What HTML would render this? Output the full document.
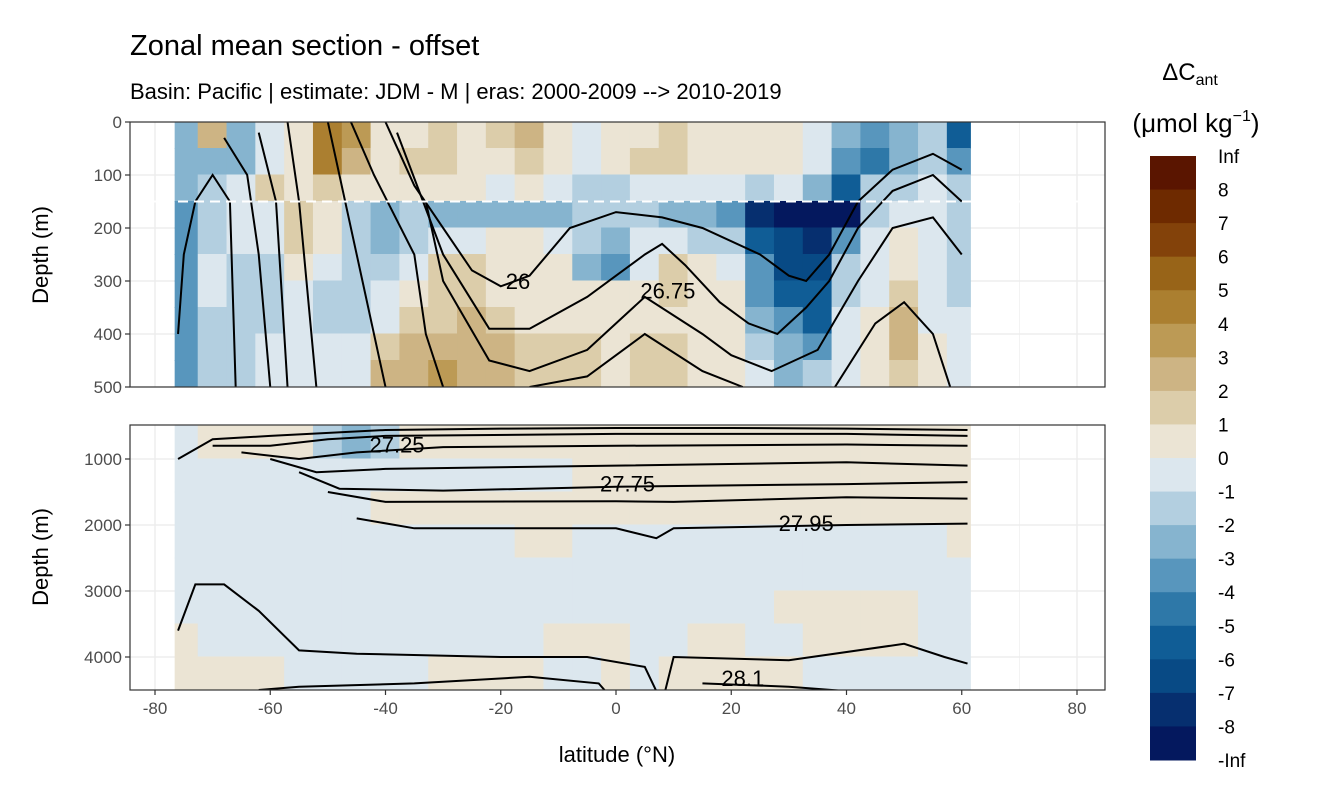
<!DOCTYPE html>
<html><head><meta charset="utf-8"><style>
html,body{margin:0;padding:0;background:#fff;}
svg{display:block;font-family:"Liberation Sans",sans-serif;}
</style></head><body>
<svg id="chart" width="1344" height="806" viewBox="0 0 1344 806" xmlns="http://www.w3.org/2000/svg">
<rect width="1344" height="806" fill="#fff"/>
<text x="130" y="55" font-size="29" fill="#000">Zonal mean section - offset</text>
<text x="130" y="99" font-size="22" fill="#000">Basin: Pacific | estimate: JDM - M | eras: 2000-2009 --&gt; 2010-2019</text>
<g id="topPanel"></g>
<g id="botPanel"></g>
<g id="axes"></g>
<g id="legend">
<text x="1190" y="80" font-size="24" text-anchor="middle">ΔC<tspan font-size="16" dy="5">ant</tspan></text>
<text x="1196" y="132" font-size="26" text-anchor="middle">(μmol kg<tspan font-size="16" dy="-11">−1</tspan><tspan dy="11">)</tspan></text>
</g>
</svg>
<script>
const lats=[-75,-70,-65,-60,-55,-50,-45,-40,-35,-30,-25,-20,-15,-10,-5,0,5,10,15,20,25,30,35,40,45,50,55,60];
const topDepths=[0,50,100,150,200,250,300,350,400,450];
const botDepths=[500,1000,1500,2000,2500,3000,3500,4000];
const topVals=[
[-3,2,-3,-0.5,0.5,4.5,3.5,0.5,0.5,1.5,0.5,1.5,2.5,0.5,-0.5,0.5,0.5,1.5,0.5,0.5,0.5,0.5,-0.5,-2.5,-3.5,-2.5,-1.5,-5.5],
[-2.5,-2.5,-2.5,-0.5,0.5,4.5,2.5,0.5,1.5,1.5,0.5,0.5,1.5,0.5,-0.5,0.5,1.5,1.5,0.5,0.5,0.5,0.5,-0.5,-3.5,-4.5,-2.5,-1.5,-3.5],
[-2.5,-1.5,-0.5,1.5,0.5,1.5,0.5,0.5,0.5,0.5,0.5,-0.5,0.5,-0.5,-1.5,-1.5,-0.5,-0.5,-0.5,-0.5,-1.5,-0.5,-2.5,-5.5,-1.5,-1.5,-0.5,-1.5],
[-3.5,-1.5,-0.5,-0.5,1.5,0.5,-1.5,-2.5,-1.5,-2.5,-2.5,-2.5,-2.5,-2.5,-1.5,-1.5,-1.5,-2.5,-2.5,-3.5,-7.5,-8.5,-8.5,-8.5,-1.5,-0.5,-0.5,-1.5],
[-3.5,-1.5,-0.5,-0.5,1.5,0.5,-1.5,-2.5,-1.5,-0.5,-0.5,0.5,0.5,-0.5,-1.5,-2.5,-0.5,-0.5,-1.5,-1.5,-5.5,-6.5,-7.5,-3.5,-0.5,0.5,-0.5,-1.5],
[-3.5,-0.5,-1.5,-1.5,0.5,-0.5,-1.5,-1.5,-0.5,1.5,1.5,0.5,0.5,0.5,-2.5,-3.5,-0.5,1.5,0.5,-0.5,-3.5,-6.5,-6.5,-1.5,-0.5,0.5,-0.5,-1.5],
[-3.5,-0.5,-1.5,-1.5,-0.5,-1.5,-1.5,-0.5,0.5,1.5,1.5,0.5,0.5,0.5,0.5,0.5,0.5,1.5,0.5,0.5,-3.5,-5.5,-5.5,-1.5,-0.5,1.5,-0.5,-1.5],
[-3.5,-1.5,-1.5,-1.5,-0.5,-1.5,-1.5,-0.5,1.5,1.5,2.5,1.5,0.5,0.5,0.5,0.5,0.5,0.5,0.5,0.5,-2.5,-3.5,-5.5,-0.5,0.5,2.5,-0.5,-0.5],
[-3.5,-1.5,-1.5,-0.5,-0.5,-0.5,-0.5,1.5,2.5,2.5,2.5,2.5,1.5,1.5,1.5,0.5,1.5,1.5,0.5,0.5,-1.5,-2.5,-3.5,-0.5,0.5,2.5,0.5,-0.5],
[-3.5,-1.5,-1.5,-0.5,-0.5,-0.5,-0.5,2.5,2.5,3.5,2.5,2.5,1.5,1.5,1.5,0.5,1.5,1.5,0.5,0.5,-0.5,-2.5,-1.5,-0.5,0.5,1.5,0.5,-0.5]];
const botVals=[
[-0.5,0.5,0.5,0.5,0.5,-1.5,-2.5,-1.5,0.5,0.5,0.5,0.5,0.5,0.5,0.5,0.5,0.5,0.5,0.5,0.5,0.5,0.5,0.5,0.5,0.5,0.5,0.5,0.5],
[-0.5,-0.5,-0.5,-0.5,-0.5,-0.5,-0.5,-0.5,-0.5,-0.5,-0.5,-0.5,-0.5,-0.5,0.5,0.5,0.5,0.5,0.5,0.5,0.5,0.5,0.5,0.5,0.5,0.5,0.5,0.5],
[-0.5,-0.5,-0.5,-0.5,-0.5,-0.5,-0.5,0.5,0.5,0.5,0.5,0.5,0.5,0.5,0.5,0.5,0.5,0.5,0.5,0.5,0.5,0.5,0.5,0.5,0.5,0.5,0.5,0.5],
[-0.5,-0.5,-0.5,-0.5,-0.5,-0.5,-0.5,-0.5,-0.5,-0.5,-0.5,-0.5,0.5,0.5,-0.5,-0.5,-0.5,-0.5,-0.5,-0.5,-0.5,-0.5,-0.5,-0.5,-0.5,-0.5,-0.5,0.5],
[-0.5,-0.5,-0.5,-0.5,-0.5,-0.5,-0.5,-0.5,-0.5,-0.5,-0.5,-0.5,-0.5,-0.5,-0.5,-0.5,-0.5,-0.5,-0.5,-0.5,-0.5,-0.5,-0.5,-0.5,-0.5,-0.5,-0.5,-0.5],
[-0.5,-0.5,-0.5,-0.5,-0.5,-0.5,-0.5,-0.5,-0.5,-0.5,-0.5,-0.5,-0.5,-0.5,-0.5,-0.5,-0.5,-0.5,-0.5,-0.5,-0.5,0.5,0.5,0.5,0.5,0.5,-0.5,-0.5],
[0.5,-0.5,-0.5,-0.5,-0.5,-0.5,-0.5,-0.5,-0.5,-0.5,-0.5,-0.5,-0.5,0.5,0.5,0.5,-0.5,-0.5,0.5,0.5,-0.5,-0.5,0.5,0.5,0.5,0.5,-0.5,-0.5],
[0.5,0.5,0.5,0.5,-0.5,-0.5,-0.5,-0.5,-0.5,0.5,0.5,0.5,0.5,-0.5,-0.5,0.5,-0.5,0.5,0.5,0.5,0.5,0.5,-0.5,-0.5,-0.5,-0.5,-0.5,-0.5]];
const binColors=["#04185e","#062f6f","#084a85","#105d96","#2e78a8","#5896bd","#86b4cf","#b3cfe0","#dce7ee","#ebe4d4","#dccdaa","#cdb484","#bc9a55","#ab7f30","#986418","#83420a","#6e2a00","#5a1500"];
const legendLabels=["Inf","8","7","6","5","4","3","2","1","0","-1","-2","-3","-4","-5","-6","-7","-8","-Inf"];
const xTicks=[-80,-60,-40,-20,0,20,40,60,80];
const topYTicks=[0,100,200,300,400,500];
const botYTicks=[1000,2000,3000,4000];
const topContours=[
[[-68,30],[-64,100],[-62,250],[-60,500]],
[[-62,20],[-59,150],[-57,500]],
[[-57,0],[-55,150],[-52,500]],
[[-50,0],[-48,100],[-44,300],[-40,500]],
[[-46,0],[-42,100],[-35,250],[-33,400],[-30,500]],
[[-40,0],[-35,120],[-25,280],[-20,310],[-15,290],[-8,200],[0,170],[8,180],[15,200],[25,250],[30,290],[33,300],[37,250],[42,150],[48,90],[55,60],[60,90]],
[[-38,20],[-30,250],[-22,390],[-15,390],[-5,330],[0,290],[5,250],[8,230],[12,270],[18,340],[23,380],[28,400],[33,350],[37,300],[42,200],[48,130],[55,100],[60,150]],
[[-33,150],[-30,300],[-22,450],[-15,470],[-5,430],[5,330],[15,400],[20,440],[27,470],[35,430],[42,300],[48,200],[55,180],[60,250]],
[[-15,500],[-5,480],[5,400],[15,470],[22,500]],
[[38,500],[45,380],[50,340],[55,400],[58,500]],
[[-76,400],[-75,250],[-73,150],[-70,100],[-67,150],[-66,500]]];
const botContours=[
[[-76,1000],[-70,700],[-60,650],[-40,560],[-20,540],[0,530],[20,530],[40,540],[61,560]],
[[-70,800],[-60,800],[-50,700],[-40,650],[0,620],[40,620],[61,650]],
[[-65,900],[-55,1000],[-45,900],[-30,820],[0,800],[40,780],[61,800]],
[[-60,1000],[-52,1200],[-40,1150],[0,1100],[40,1050],[61,1100]],
[[-55,1200],[-48,1450],[-30,1480],[0,1420],[40,1380],[61,1350]],
[[-50,1500],[-40,1650],[0,1640],[10,1650],[40,1580],[61,1600]],
[[-45,1900],[-35,2050],[0,2050],[7,2200],[10,2050],[40,2000],[61,1980]],
[[-76,3600],[-73,2900],[-68,2900],[-62,3300],[-55,3900],[-45,3950],[-20,4000],[-5,4000],[5,4150],[8,4700],[10,4000],[30,4050],[50,3800],[57,4000],[61,4100]],
[[-62,4500],[-55,4450],[-35,4400],[-15,4300],[-3,4400],[0,4700]],
[[15,4400],[30,4450],[45,4550]]];
const contourLabels=[["26",-17,300,"t"],["26.75",9,318,"t"],["27.25",-38,780,"b"],["27.75",2,1370,"b"],["27.95",33,1970,"b"],["28.1",22,4320,"b"]];

const NS="http://www.w3.org/2000/svg";
const X0=130,X1=1105,TOPY0=122,TOPY1=387,BOTY0=425,BOTY1=690;
const LATMIN=-76.5,LATMAX=61.5;
const xs=l=>616+l*5.7625;
const yt=d=>TOPY0+d*0.53;
const yb=d=>426+(d-500)*0.066;
const colorOf=v=>binColors[Math.max(0,Math.min(17,Math.floor(v)+9))];
function el(tag,attrs,parent){const e=document.createElementNS(NS,tag);for(const k in attrs)e.setAttribute(k,attrs[k]);parent.appendChild(e);return e;}
const topG=document.getElementById('topPanel'),botG=document.getElementById('botPanel'),axesG=document.getElementById('axes'),legendG=document.getElementById('legend');
const svgEl=document.getElementById('chart');
const defs=el('defs',{},svgEl);
const c1=el('clipPath',{id:'ct'},defs);el('rect',{x:X0,y:TOPY0,width:X1-X0,height:TOPY1-TOPY0},c1);
const c2=el('clipPath',{id:'cb'},defs);el('rect',{x:X0,y:BOTY0,width:X1-X0,height:BOTY1-BOTY0},c2);
topG.setAttribute('clip-path','url(#ct)');botG.setAttribute('clip-path','url(#cb)');

function grid(g,y0,y1,yTicks,ys){
  for(let l=-90;l<=90;l+=10){const x=xs(l);el('line',{x1:x,x2:x,y1:y0,y2:y1,stroke:'#ebebeb','stroke-width':l%20===0?1.3:0.6},g);}
  yTicks.forEach(d=>{const y=ys(d);el('line',{x1:X0,x2:X1,y1:y,y2:y,stroke:'#ebebeb','stroke-width':1.3},g);});
}
grid(topG,TOPY0,TOPY1,topYTicks,yt);
grid(botG,BOTY0,BOTY1,botYTicks,yb);

function cells(g,vals,depths,ys,dStep,maxD){
  vals.forEach((row,i)=>{row.forEach((v,j)=>{
    const d0=depths[i],d1=Math.min(depths[i]+dStep,maxD);
    const x0=xs(Math.max(lats[j]-2.5,LATMIN)),x1=xs(Math.min(lats[j]+2.5,LATMAX));
    const r=el('rect',{x:x0-0.5,y:ys(d0)-0.5,width:x1-x0+1,height:ys(d1)-ys(d0)+1,fill:colorOf(v)},g);
    
    
  });});
}
cells(topG,topVals,topDepths,yt,50,500);
cells(botG,botVals,botDepths,yb,500,4500);

function lines(g,cs,ys){
  cs.forEach(c=>{const p=el('polyline',{points:c.map(q=>xs(q[0])+','+ys(q[1])).join(' '),fill:'none',stroke:'#000','stroke-width':2},g);
    
    });
}
lines(topG,topContours,yt);
lines(botG,botContours,yb);
const dash=el('line',{x1:X0,x2:X1,y1:yt(150),y2:yt(150),stroke:'#fff','stroke-width':2,'stroke-dasharray':'10,6'},topG);


contourLabels.forEach(c=>{const g=c[3]==='t'?topG:botG,ys=c[3]==='t'?yt:yb;
  const t=el('text',{x:xs(c[1]),y:ys(c[2])+8,'font-size':22,'text-anchor':'middle',fill:'#000'},g);t.textContent=c[0];
  
  });

[[TOPY0,TOPY1],[BOTY0,BOTY1]].forEach(p=>{const r=el('rect',{x:X0,y:p[0],width:X1-X0,height:p[1]-p[0],fill:'none',stroke:'#333','stroke-width':1.2},axesG);
  
  });
xTicks.forEach(l=>{const x=xs(l);el('line',{x1:x,x2:x,y1:BOTY1,y2:BOTY1+5,stroke:'#333','stroke-width':1.2},axesG);
  const t=el('text',{x:x,y:BOTY1+24,'font-size':17,'text-anchor':'middle',fill:'#4d4d4d'},axesG);t.textContent=l;
  
  });
function yTicksDraw(ticks,ys){ticks.forEach(d=>{const y=ys(d);el('line',{x1:X0-5,x2:X0,y1:y,y2:y,stroke:'#333','stroke-width':1.2},axesG);
  const t=el('text',{x:X0-8,y:y+6,'font-size':17,'text-anchor':'end',fill:'#4d4d4d'},axesG);t.textContent=d;
  
  });}
yTicksDraw(topYTicks,yt);yTicksDraw(botYTicks,yb);
const xt=el('text',{x:617,y:762,'font-size':22,'text-anchor':'middle'},axesG);xt.textContent='latitude (°N)';


[[255,'y-axis-title-top'],[557,'y-axis-title-bottom']].forEach(a=>{const t=el('text',{x:0,y:0,'font-size':22,'text-anchor':'middle',transform:`translate(48,${a[0]}) rotate(-90)`},axesG);t.textContent='Depth (m)';
  
  });

const LB0=156,LB1=760,bh=(LB1-LB0)/binColors.length;
binColors.slice().reverse().forEach((c,i)=>{const r=el('rect',{x:1150,y:LB0+i*bh,width:46,height:bh+0.5,fill:c},legendG);
  
  });
legendLabels.forEach((s,i)=>{const t=el('text',{x:1218,y:LB0+i*bh+7,'font-size':19,fill:'#000'},legendG);t.textContent=s;
  
  });
</script>
</body></html>
